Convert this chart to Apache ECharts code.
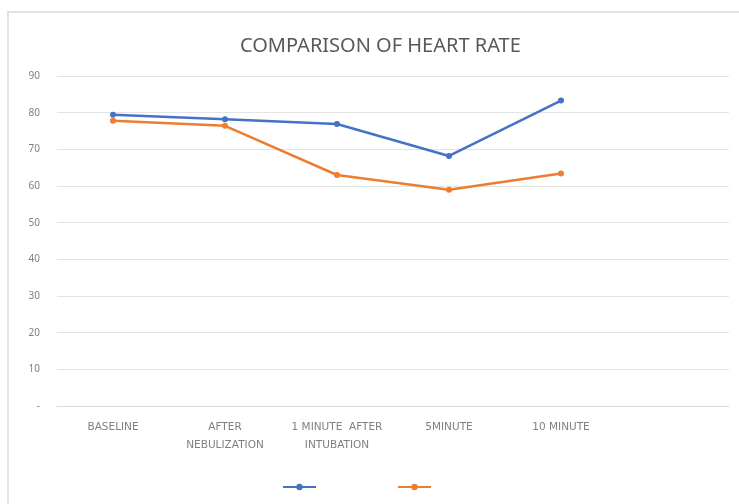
<!DOCTYPE html>
<html>
<head>
<meta charset="utf-8" />
<title>Comparison of heart rate</title>
<style type="text/css">
body,div{margin:0;padding:0;}
#chart{width:739px;height:504px;background:#fff;}
</style>
<script src="https://cdn.jsdelivr.net/npm/echarts@6/dist/echarts.min.js"></script>
</head>
<body>
<div id="chart"></div>
<script type="text/javascript">
// data
var categories = ['BASELINE', 'AFTER\nNEBULIZATION', '1 MINUTE  AFTER\nINTUBATION', '5MINUTE', '10 MINUTE', ''];
var series1 = [79.4, 78.2, 76.9, 68.2, 83.3];
var series2 = [77.8, 76.4, 63.0, 59.0, 63.4];
var yTicks = [0, 10, 20, 30, 40, 50, 60, 70, 80, 90];

var font = 'Noto Sans';
var myChart = echarts.init(document.getElementById('chart'));
var option = {
    animation: false,
    color: ['#4472C4', '#ED7D31'],
    graphic: [
        // faint frame of the pasted picture (top and left edges)
        { type: 'line', shape: { x1: 7, y1: 12, x2: 739, y2: 12 }, style: { stroke: '#e2e2e2', lineWidth: 2 } },
        { type: 'line', shape: { x1: 8, y1: 12, x2: 8, y2: 504 }, style: { stroke: '#e2e2e2', lineWidth: 2 } }
    ],
    title: {
        text: 'COMPARISON OF HEART RATE',
        left: 235,
        top: 31,
        textStyle: { fontFamily: font, fontSize: 20, fontWeight: 'normal', color: '#595959' }
    },
    legend: {
        data: ['Series1', 'Series2'],
        left: 277,
        top: 478,
        itemWidth: 33,
        itemHeight: 8,
        itemGap: 80,
        formatter: function () { return ''; },
        textStyle: { fontSize: 1 }
    },
    grid: { left: 57, right: 10, top: 76, bottom: 98 },
    xAxis: {
        type: 'category',
        data: categories,
        boundaryGap: true,
        axisLine: { lineStyle: { color: '#d9d9d9' } },
        axisTick: { show: false },
        axisLabel: {
            interval: 0,
            margin: 12,
            lineHeight: 18,
            fontFamily: 'DejaVu Sans',
            fontSize: 10.5,
            color: '#808080'
        }
    },
    yAxis: {
        type: 'value',
        min: yTicks[0],
        max: yTicks[yTicks.length - 1],
        interval: 10,
        axisLine: { show: false },
        axisTick: { show: false },
        splitLine: { lineStyle: { color: '#e4e4e4' } },
        axisLabel: {
            margin: 17,
            fontFamily: font,
            fontSize: 10,
            color: '#808080',
            formatter: function (v) { return v === 0 ? '-' : v; }
        }
    },
    series: [
        {
            name: 'Series1',
            type: 'line',
            data: series1,
            symbol: 'circle',
            symbolSize: 6,
            lineStyle: { width: 2.5 }
        },
        {
            name: 'Series2',
            type: 'line',
            data: series2,
            symbol: 'circle',
            symbolSize: 6,
            lineStyle: { width: 2.5 }
        }
    ]
};
myChart.setOption(option);
</script>
</body>
</html>
